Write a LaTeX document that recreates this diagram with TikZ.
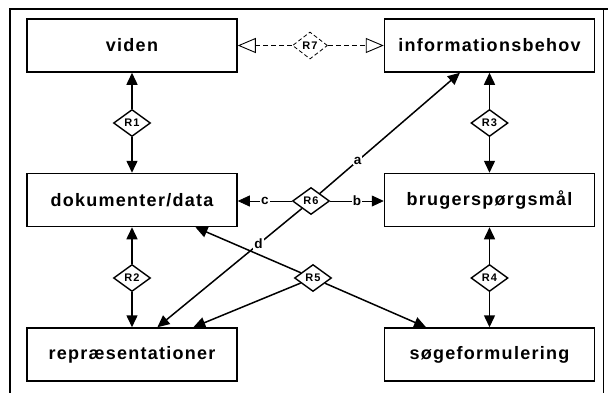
\documentclass[tikz,border=0pt]{standalone}
\usepackage{fontspec}
\setmainfont{Liberation Sans}
\newfontfamily\boxfont{Liberation Sans}[LetterSpace=7]
\newfontfamily\relfont{Liberation Sans}[LetterSpace=10]
\usetikzlibrary{shapes.geometric,arrows.meta,calc}
\tikzset{
  ent/.style={draw, line width=1.5pt, minimum width=210pt, minimum height=53pt, inner sep=0pt,
    font=\boxfont\bfseries\fontsize{18}{20}\selectfont},
  rel/.style={draw, diamond, line width=1.4pt, minimum width=37pt, minimum height=27pt, inner sep=0pt,
    font=\relfont\bfseries\fontsize{11}{12}\selectfont, fill=white},
  arr/.style={line width=1.5pt, -{Triangle[length=12pt,width=11pt]}},
  thinarr/.style={line width=0.8pt, -{Triangle[length=12pt,width=11pt]}},
  dasharr/.style={line width=0.8pt, dashed, dash pattern=on 5pt off 3pt, -{Triangle[open,length=18pt,width=15pt,line width=0.9pt]}},
  lbl/.style={fill=white, inner sep=1pt, font=\relfont\bfseries\fontsize{13.5}{14}\selectfont},
}
\begin{document}
\begin{tikzpicture}[x=1pt,y=-1pt]
\useasboundingbox (0,0) rectangle (608,392);
\draw[line width=1.4pt] (10,400) -- (10,9) -- (608,9);
\draw[line width=0.6pt] (603,9) -- (603,400);
% entities
\node[ent] (viden) at (132,45.5) {viden};
\node[ent] (info) at (489.5,45.5) {informationsbehov};
\node[ent] (dok) at (132,200) {dokumenter/data};
\node[ent] (brug) at (489.5,200) {brugerspørgsmål};
\node[ent] (repr) at (132,354.5) {repræsentationer};
\node[ent] (soge) at (489.5,354.5) {søgeformulering};
% relations
\node[rel] (r1) at (132,123) {R1};
\node[rel] (r2) at (132,278) {R2};
\node[rel] (r3) at (489.5,123) {R3};
\node[rel] (r4) at (489.5,278) {R4};
\node[rel] (r5) at (313,278) {R5};
\node[rel] (r6) at (311,201) {R6};
\node[rel, dashed, dash pattern=on 4pt off 2.5pt, line width=0.8pt, minimum width=35pt] (r7) at (310,45.5) {R7};
% connectors
\draw[arr] (r1) -- (viden);
\draw[arr] (r1) -- (dok);
\draw[arr] (r2) -- (dok);
\draw[arr] (r2) -- (repr);
\draw[arr] (r3) -- (info);
\draw[arr] (r3) -- (brug);
\draw[arr] (r4) -- (brug);
\draw[arr] (r4) -- (soge);
\draw[dasharr] (r7) -- (viden);
\draw[dasharr] (r7) -- (info);
\draw[thinarr] (r6) -- node[lbl, pos=0.5] {c} (dok.east |- r6);
\draw[thinarr] (r6) -- node[lbl, pos=0.5] {b} (brug.west |- r6);
\draw[arr] (r6) -- node[lbl, pos=0.27] {a} ($(info.south west)!0.36!(info.south east)$);
\draw[arr] (r6) -- node[lbl, pos=0.3] {d} ($(repr.north west)!0.62!(repr.north east)$);
\draw[arr] (r5) -- ($(dok.south west)!0.8!(dok.south east)$);
\draw[arr] (r5) -- ($(repr.north west)!0.79!(repr.north east)$);
\draw[arr] (r5) -- ($(soge.north west)!0.2!(soge.north east)$);
\end{tikzpicture}
\end{document}
